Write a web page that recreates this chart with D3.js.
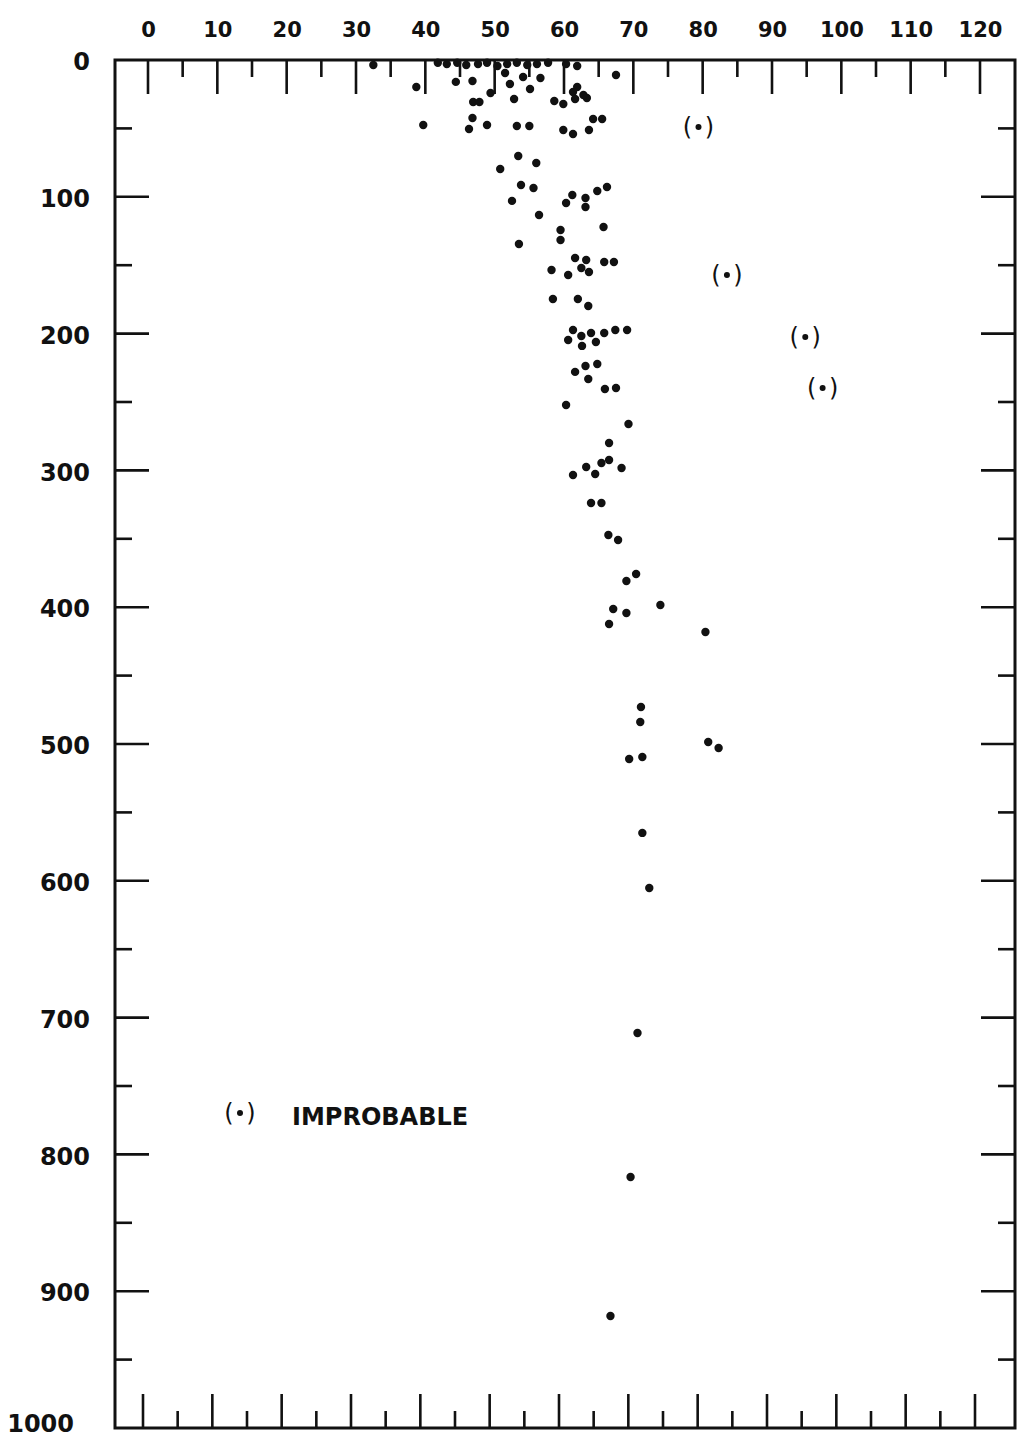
<!DOCTYPE html>
<html>
<head>
<meta charset="utf-8">
<script src="https://cdn.jsdelivr.net/npm/d3@7"></script>
<style>
  body { margin: 0; background: #fff; }
  text { font-family: "DejaVu Sans", sans-serif; fill: #111; }
</style>
</head>
<body>
<div id="container"></div>
<script>
// x ticks along top and bottom, y ticks down the sides
var xTicks = d3.range(0, 121, 5);
var xLabels = d3.range(0, 121, 10);
var yTicks = d3.range(50, 1000, 50);
var yLabels = d3.range(0, 1001, 100);

// [x, depth]
var samples = [
  [32.5,3.7],[41.8,2],[43.1,3],[44.6,2],[45.9,3.7],[47.6,3],[48.9,2],[50.4,4.4],
  [51.8,3],[53.2,2],[54.7,3.7],[56.1,3],[57.7,2],[60.3,3],[61.9,4.4],
  [38.7,19.7],[44.4,16],[46.8,15.4],[46.9,30.7],[47.8,30.7],[49.4,24.1],[51.5,9.5],
  [52.2,17.5],[54.1,12.4],[55.1,21.2],[56.6,13.2],[52.8,28.5],[58.6,30],[59.9,32.2],
  [61.6,28.5],[63.3,27.8],[61.3,23.4],[62.8,25.6],[61.9,19.7],[67.5,11],
  [39.7,47.5],[46.8,42.4],[46.3,50.4],[48.9,47.5],[53.2,48.2],[55.0,48.2],[59.9,51.2],
  [61.3,54.1],[63.6,51.2],[64.2,43.1],[65.5,43.1],
  [53.4,70.2],[56.0,75.3],[50.8,79.7],[53.8,91.4],[55.6,93.6],[52.5,103],[61.2,98.7],
  [60.3,104.5],[63.1,100.9],[63.1,107.5],[64.8,95.8],[66.2,92.8],
  [56.4,113.3],[59.5,124.3],[59.5,131.6],[65.7,122.1],[53.5,134.5],[61.6,144.7],
  [63.2,146.2],[62.5,152],[63.6,155],[65.8,147.7],[67.2,147.7],[58.2,153.5],[60.6,157.2],
  [58.4,174.7],[62.0,174.7],[63.5,179.8],[61.3,197.4],[62.5,201.8],[60.6,204.7],
  [62.6,209],[63.9,199.6],[64.6,206.1],[65.8,199.6],[67.4,197.4],[69.1,197.4],
  [61.6,228],[63.1,223.7],[64.8,222.2],[63.5,233.2],[65.9,240.5],[67.5,239.8],
  [60.3,252.2],[69.3,266.1],[66.5,280],[65.4,294.6],[66.5,292.4],[63.2,297.5],
  [64.5,302.6],[61.3,303.4],[68.3,298.2],
  [63.9,323.8],[65.4,323.8],[66.4,347.2],[67.8,350.9],[70.4,375.7],[69.0,380.8],
  [73.9,398.4],[67.1,401.3],[69.0,404.2],[66.5,412.3],[80.4,418.1],[71.1,473],
  [71.0,483.9],[80.8,498.5],[82.3,502.9],[71.3,509.5],[69.4,511],
  [71.3,565],[72.3,605.3],[70.6,711.3],[69.6,816.5],[66.7,918.1]
];

// points flagged as improbable, drawn as (•)
var improbable = [[79.4,49],[83.5,157.2],[94.8,202.5],[97.3,239.8]];
var legendLabel = "IMPROBABLE";

var W = 1018, H = 1441;
var frame = {left: 115, right: 1015, top: 60, bottom: 1428};

var svg = d3.select("#container").append("svg")
  .attr("width", W)
  .attr("height", H);

var x = d3.scaleLinear().domain([0, 120]).range([148, 980]);
var y = d3.scaleLinear().domain([0, 1000]).range([frame.top, frame.bottom]);

/* ------- FRAME -------*/
svg.append("rect")
  .attr("x", frame.left)
  .attr("y", frame.top)
  .attr("width", frame.right - frame.left)
  .attr("height", frame.bottom - frame.top)
  .attr("fill", "none")
  .attr("stroke", "#111")
  .attr("stroke-width", 3);

var ticks = svg.append("g").attr("stroke", "#111").attr("stroke-width", 2.6);

function len(v, step) { return v % step === 0 ? 34 : 17; }

// top and bottom ticks point inward
ticks.selectAll("line.top").data(xTicks).enter().append("line")
  .attr("class", "top")
  .attr("x1", function(d) { return x(d); })
  .attr("x2", function(d) { return x(d); })
  .attr("y1", frame.top)
  .attr("y2", function(d) { return frame.top + len(d, 10); });

ticks.selectAll("line.bottom").data(xTicks).enter().append("line")
  .attr("class", "bottom")
  .attr("x1", function(d) { return x(d) - 5; })
  .attr("x2", function(d) { return x(d) - 5; })
  .attr("y1", frame.bottom)
  .attr("y2", function(d) { return frame.bottom - len(d, 10); });

ticks.selectAll("line.left").data(yTicks).enter().append("line")
  .attr("class", "left")
  .attr("x1", frame.left)
  .attr("x2", function(d) { return frame.left + len(d, 100); })
  .attr("y1", function(d) { return y(d); })
  .attr("y2", function(d) { return y(d); });

ticks.selectAll("line.right").data(yTicks).enter().append("line")
  .attr("class", "right")
  .attr("x1", frame.right)
  .attr("x2", function(d) { return frame.right - len(d, 100); })
  .attr("y1", function(d) { return y(d); })
  .attr("y2", function(d) { return y(d); });

/* ------- LABELS -------*/
var topAxis = d3.axisTop(x).tickValues(xLabels).tickSize(0).tickPadding(0)
  .tickFormat(d3.format("d"));
var gTop = svg.append("g").attr("transform", "translate(0,37)").call(topAxis);
gTop.select(".domain").remove();
gTop.selectAll("text")
  .attr("y", 0).attr("dy", 0)
  .style("font-size", "21px")
  .style("font-weight", "bold")
  .style("font-family", "DejaVu Sans")
  .attr("fill", "#111");

var leftAxis = d3.axisLeft(y).tickValues(yLabels).tickSize(0).tickPadding(0)
  .tickFormat(d3.format("d"));
var gLeft = svg.append("g").attr("transform", "translate(90,2)").call(leftAxis);
gLeft.select(".domain").remove();
gLeft.selectAll("text")
  .style("font-size", "24px")
  .style("font-weight", "bold")
  .style("font-family", "DejaVu Sans")
  .attr("fill", "#111");
// the 1000 label sits lower left, under the corner
gLeft.selectAll(".tick").filter(function(d) { return d === 1000; })
  .select("text").attr("x", -16).attr("dy", "0.05em");

/* ------- POINTS -------*/
svg.append("g").selectAll("circle").data(samples).enter().append("circle")
  .attr("cx", function(d) { return x(d[0]); })
  .attr("cy", function(d) { return y(d[1]); })
  .attr("r", 4.2)
  .attr("fill", "#111");

function marker(g) {
  g.append("circle").attr("r", 3).attr("fill", "#111");
  g.append("text").attr("x", -11).attr("y", 8).attr("text-anchor", "middle")
    .style("font-size", "24px").text("(");
  g.append("text").attr("x", 11).attr("y", 8).attr("text-anchor", "middle")
    .style("font-size", "24px").text(")");
}

svg.append("g").selectAll("g").data(improbable).enter().append("g")
  .attr("transform", function(d) { return "translate(" + x(d[0]) + "," + y(d[1]) + ")"; })
  .each(function() { marker(d3.select(this)); });

/* ------- LEGEND -------*/
var legend = svg.append("g").attr("transform", "translate(240,1113)");
marker(legend);
legend.append("text")
  .attr("x", 52).attr("y", 12)
  .style("font-size", "24px")
  .style("font-weight", "bold")
  .text(legendLabel);
</script>
</body>
</html>
